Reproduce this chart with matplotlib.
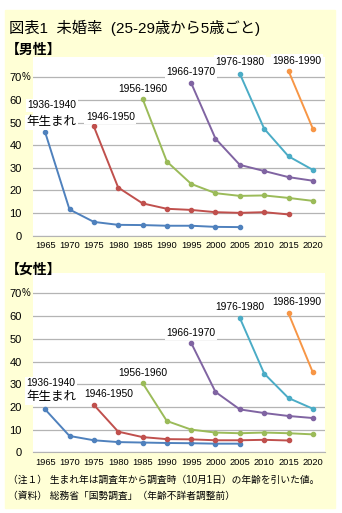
import matplotlib.pyplot as plt
from matplotlib.patches import Rectangle

years = [1965, 1970, 1975, 1980, 1985, 1990, 1995, 2000, 2005, 2010, 2015, 2020]
year_labels = [str(y) for y in years]
cohorts = ['1936-1940', '1946-1950', '1956-1960', '1966-1970', '1976-1980', '1986-1990']
first_year = [1965, 1975, 1985, 1995, 2005, 2015]

# 男性 (%)
male_1936 = [45.7, 11.6, 6.1, 4.8, 4.7, 4.4, 4.4, 3.9, 3.8]
male_1946 = [48.3, 21.3, 14.3, 11.9, 11.4, 10.4, 10.1, 10.4, 9.4]
male_1956 = [60.6, 32.8, 22.9, 18.8, 17.6, 17.8, 16.7, 15.4]
male_1966 = [67.5, 42.9, 31.3, 28.6, 25.9, 24.3]
male_1976 = [71.6, 47.3, 35.1, 29.1]
male_1986 = [72.9, 47.3]

# 女性 (%)
female_1936 = [18.9, 7.2, 5.3, 4.5, 4.3, 4.1, 4.0, 3.8, 3.8]
female_1946 = [20.9, 9.1, 6.7, 5.8, 5.7, 5.3, 5.3, 5.5, 5.2]
female_1956 = [30.6, 13.8, 10.0, 8.7, 8.4, 8.7, 8.4, 7.9]
female_1966 = [48.2, 26.6, 18.9, 17.3, 16.0, 15.1]
female_1976 = [59.2, 34.7, 23.9, 19.2]
female_1986 = [61.2, 35.2]

male = [male_1936, male_1946, male_1956, male_1966, male_1976, male_1986]
female = [female_1936, female_1946, female_1956, female_1966, female_1976, female_1986]

colors = ['#4F81BD', '#C0504D', '#9BBB59', '#8064A2', '#4BACC6', '#F79646']

plt.rcParams['font.family'] = ['Liberation Sans', 'Noto Sans CJK JP']

W, H = 342, 513
fig = plt.figure(figsize=(W / 100, H / 100), dpi=100)
fig.patches.append(Rectangle((5 / W, 1 - 508 / H), 330 / W, 498 / H,
                             transform=fig.transFigure, color='#FFFFD6', zorder=-5))


def draw(ax, series, label_pos, born_pos):
    ax.set_facecolor('white')
    ax.set_xlim(-0.5, len(years) - 0.5)
    ax.set_ylim(0, 79)
    ax.set_xticks(range(len(years)))
    ax.set_xticklabels(year_labels, fontsize=6.7)
    ax.set_yticks(range(0, 80, 10))
    ax.set_yticklabels([str(v) for v in range(0, 80, 10)], fontsize=8)
    ax.tick_params(length=0)
    ax.tick_params(axis='x', pad=3.8)
    ax.tick_params(axis='y', pad=8)
    ax.grid(axis='y', color='#B4B4B4', lw=0.9)
    ax.set_axisbelow(True)
    for s in ['top', 'left', 'right']:
        ax.spines[s].set_visible(False)
    ax.spines['bottom'].set_color('#B4B4B4')
    ax.annotate('%', xy=(0, 70), xycoords=('axes fraction', 'data'), xytext=(-8, 0),
                textcoords='offset points', ha='left', va='center', fontsize=7)

    for vals, start, c in zip(series, first_year, colors):
        i0 = years.index(start)
        xs = list(range(i0, i0 + len(vals)))
        ax.plot(xs, vals, color=c, lw=1.4, marker='o', ms=3, zorder=3)

    box = dict(facecolor='white', edgecolor='none', pad=1.0)
    for name, (lx, ly) in zip(cohorts, label_pos):
        ax.text(lx, ly, name, ha='center', va='center', fontsize=7.4,
                bbox=box, zorder=4, clip_on=False)
    ax.text(born_pos[0], born_pos[1], '年生まれ', ha='center', va='center', fontsize=9,
            bbox=box, zorder=4, clip_on=False)


left = 33 / W
width = 292 / W
ax1 = fig.add_axes([left, 1 - 235.7 / H, width, 178.7 / H])
ax2 = fig.add_axes([left, 1 - 452.3 / H, width, 179.3 / H])

draw(ax1, male,
     [(0.28, 57.6), (2.68, 52.4), (4.0, 64.9), (6.0, 72.2), (8.02, 77.0), (10.33, 77.4)],
     (0.27, 50.2))
draw(ax2, female,
     [(0.25, 30.4), (2.63, 25.5), (4.0, 34.8), (6.0, 52.4), (8.02, 64.1), (10.33, 66.3)],
     (0.25, 24.2))

fig.text(9 / W, 1 - 28 / H, '図表1  未婚率  (25-29歳から5歳ごと)', va='center', fontsize=11)
fig.text(6 / W, 1 - 50 / H, '【男性】', va='center', fontsize=10, fontweight='bold')
fig.text(6 / W, 1 - 270 / H, '【女性】', va='center', fontsize=10, fontweight='bold')
fig.text(8 / W, 1 - 480 / H, '（注１） 生まれ年は調査年から調査時（10月1日）の年齢を引いた値。',
         va='center', fontsize=7)
fig.text(8 / W, 1 - 496 / H, '（資料） 総務省「国勢調査」（年齢不詳者調整前）',
         va='center', fontsize=7)

fig.savefig('out.png', dpi=100)
